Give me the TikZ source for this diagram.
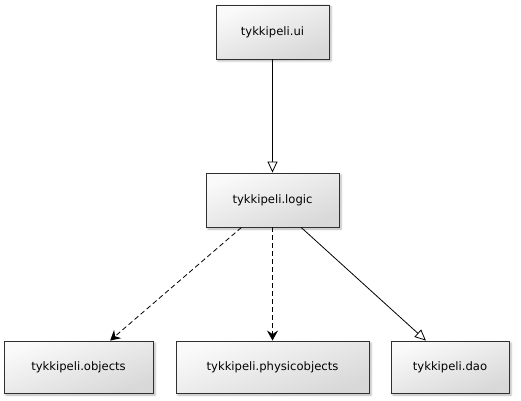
\documentclass[tikz,border=0pt]{standalone}
\usepackage{fontspec}
\setmainfont{DejaVu Sans}
\usetikzlibrary{arrows.meta,shadows.blur,calc}
\definecolor{boxtop}{HTML}{FAFAFA}
\definecolor{boxbot}{HTML}{D8D8D8}
\definecolor{boxedge}{HTML}{303030}
\tikzset{
  pkg/.style={draw=boxedge, line width=0.9pt, inner sep=0pt, minimum height=54pt,
    top color=boxtop, bottom color=boxbot, shading angle=20,
    blur shadow={shadow xshift=2pt, shadow yshift=-2pt, shadow blur radius=2pt, shadow opacity=30},
    font=\fontsize{11.6}{13}\selectfont, text=black},
  gen/.style={line width=0.8pt, -{Triangle[open, length=11pt, width=10pt, fill=white]}},
  dep/.style={line width=0.8pt, dash pattern=on 5pt off 3pt, -{Stealth[length=10pt, width=11pt, inset=3.5pt, line width=1pt]}},
}
\begin{document}
\begin{tikzpicture}[x=1pt,y=1pt]
\useasboundingbox (0,0) rectangle (521,400);
\node[pkg, minimum width=113pt] (ui) at (272.5,368) {tykkipeli.ui};
\node[pkg, minimum width=133pt] (logic) at (272.5,200) {tykkipeli.logic};
\node[pkg, minimum width=149pt, minimum height=52pt] (obj) at (78.5,33) {tykkipeli.objects};
\node[pkg, minimum width=193pt, minimum height=52pt] (phys) at (272.5,33) {tykkipeli.physicobjects};
\node[pkg, minimum width=118pt, minimum height=52pt] (dao) at (450,33) {tykkipeli.dao};
\draw[gen] (ui.south) -- (logic.north);
\draw[dep] ($(logic.south west)!0.268!(logic.south east)$) -- ($(obj.north west)!0.711!(obj.north east)$);
\draw[dep] (logic.south) -- (phys.north);
\draw[gen] ($(logic.south west)!0.714!(logic.south east)$) -- ($(dao.north west)!0.297!(dao.north east)$);
\end{tikzpicture}
\end{document}
